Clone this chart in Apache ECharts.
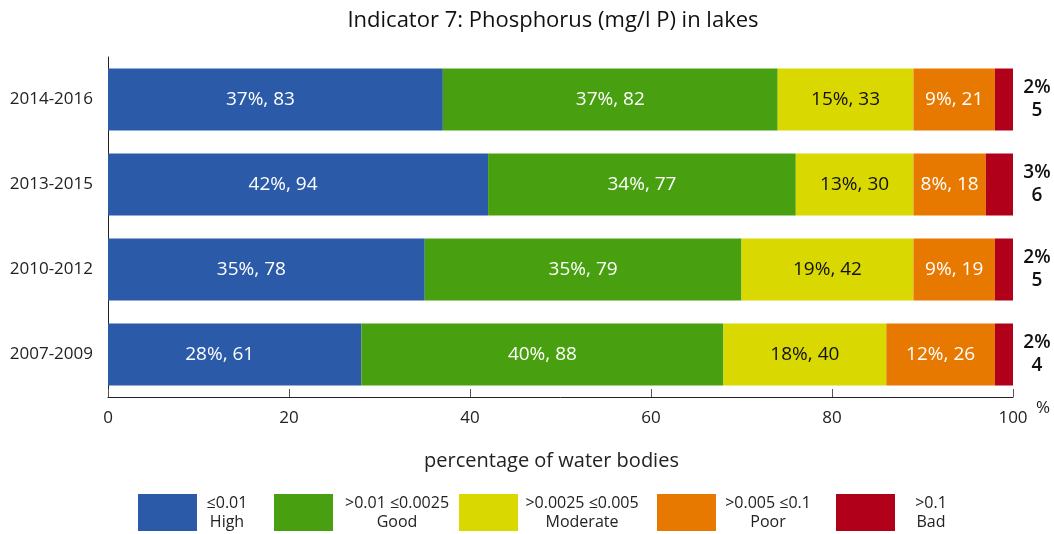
<!DOCTYPE html>
<html>
<head>
<meta charset="utf-8">
<script src="https://cdn.jsdelivr.net/npm/echarts@6/dist/echarts.min.js"></script>
<style>
  html, body { margin: 0; padding: 0; background: #fff; }
  #chart { width: 1054px; height: 534px; }
</style>
</head>
<body>
<div id="chart"></div>
<script>
// periods, top to bottom
const periods = ["2014-2016", "2013-2015", "2010-2012", "2007-2009"];

// share of water bodies (%) and number of water bodies per class
const highPct = [37, 42, 35, 28];
const highNum = [83, 94, 78, 61];
const goodPct = [37, 34, 35, 40];
const goodNum = [82, 77, 79, 88];
const moderatePct = [15, 13, 19, 18];
const moderateNum = [33, 30, 42, 40];
const poorPct = [9, 8, 9, 12];
const poorNum = [21, 18, 19, 26];
const badPct = [2, 3, 2, 2];
const badNum = [5, 6, 5, 4];

const xTicks = [0, 20, 40, 60, 80, 100];

// legend: name, limit text, class label
const classNames = ["High", "Good", "Moderate", "Poor", "Bad"];
const classLimits = ["≤0.01", ">0.01 ≤0.0025", ">0.0025 ≤0.005", ">0.005 ≤0.1", ">0.1"];

const colors = ["#2B5BA8", "#48A010", "#D9D800", "#E87900", "#B0001A"];
const FONT = "'Open Sans', 'Noto Sans', sans-serif";

const chart = echarts.init(document.getElementById("chart"));

const makeSeries = (idx, pct, num, txtColor, shift) => ({
  name: classNames[idx],
  type: "bar",
  stack: "total",
  barCategoryGap: "27%",
  data: pct,
  itemStyle: { color: colors[idx] },
  label: {
    show: true,
    position: "inside",
    offset: [shift || 0, 0],
    color: txtColor,
    fontFamily: FONT,
    fontSize: 19,
    formatter: (p) => p.value + "%, " + num[p.dataIndex],
  },
});

const legendLeft = [138, 274, 459, 657, 836];
const legendTextW = [50, 118, 118, 94, 62];

const legends = classNames.map((n, i) => ({
  data: [n],
  left: legendLeft[i],
  top: 494,
  itemWidth: 59,
  itemHeight: 37,
  icon: "rect",
  itemGap: 0,
  padding: 0,
  selectedMode: false,
  formatter: () => "{a|" + classLimits[i] + "}\n{a|" + n + "}",
  textStyle: {
    fontFamily: FONT,
    color: "#222",
    rich: {
      a: { width: legendTextW[i], align: "center", fontSize: 16, lineHeight: 19, fontFamily: FONT, color: "#222" },
    },
  },
}));

const option = {
  animation: false,
  title: {
    text: "Indicator 7: Phosphorus (mg/l P) in lakes",
    left: 548,
    textAlign: "center",
    top: 5,
    textStyle: { fontFamily: FONT, fontSize: 22, fontWeight: "normal", color: "#111" },
  },
  legend: legends,
  grid: { left: 108, right: 41, top: 57, height: 340 },
  xAxis: {
    type: "value",
    min: 0,
    max: 100,
    interval: 20,
    name: "percentage of water bodies",
    nameLocation: "middle",
    nameGap: 54,
    nameTextStyle: { fontFamily: FONT, fontSize: 20, color: "#222", padding: [0, 18, 0, 0] },
    axisLine: { show: true, lineStyle: { color: "#222", width: 1 } },
    axisTick: { show: true, inside: true, length: 8, lineStyle: { color: "#555" } },
    splitLine: { show: false },
    axisLabel: {
      margin: 13,
      fontFamily: FONT,
      fontSize: 17,
      color: "#222",
      formatter: (v) => (xTicks.includes(v) ? String(v) : ""),
    },
  },
  yAxis: {
    type: "category",
    inverse: true,
    data: periods,
    axisLine: { show: true, lineStyle: { color: "#222", width: 1 } },
    axisTick: { show: false },
    axisLabel: { margin: 15, fontFamily: FONT, fontSize: 17, color: "#222" },
  },
  graphic: [
    {
      type: "text",
      left: 1036,
      top: 400,
      style: { text: "%", font: "17px " + FONT, fill: "#222" },
    },
  ],
  series: [
    makeSeries(0, highPct, highNum, "#fff", -15),
    makeSeries(1, goodPct, goodNum, "#fff"),
    makeSeries(2, moderatePct, moderateNum, "#111"),
    makeSeries(3, poorPct, poorNum, "#fff"),
    {
      name: classNames[4],
      type: "bar",
      stack: "total",
      data: badPct,
      itemStyle: { color: colors[4] },
      label: {
        show: true,
        position: "right",
        distance: 9,
        formatter: (p) => "{a|" + p.value + "%}\n{a|" + badNum[p.dataIndex] + "}",
        rich: {
          a: { width: 30, align: "center", fontSize: 19, lineHeight: 23, fontFamily: FONT, color: "#111", fontWeight: 600 },
        },
      },
    },
  ],
};

chart.setOption(option);
</script>
</body>
</html>
